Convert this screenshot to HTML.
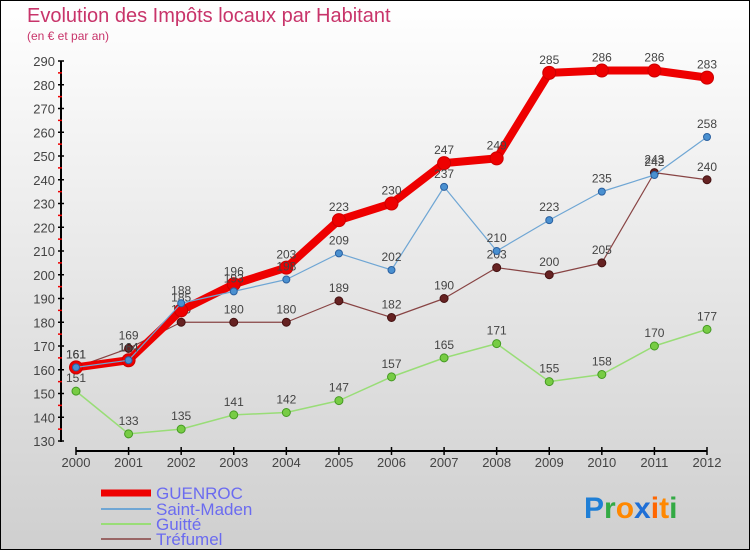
<!DOCTYPE html>
<html><head><meta charset="utf-8"><style>
body{margin:0}
#c{width:748px;height:548px;border:1px solid #000;background:linear-gradient(#ffffff,#cfcfcf);position:relative;font-family:"Liberation Sans",sans-serif;overflow:hidden}
</style></head><body>
<div id="c">
<svg id="s" width="748" height="548" xmlns="http://www.w3.org/2000/svg">
<text x="26" y="21" font-size="20" fill="#c8346a">Evolution des Impôts locaux par Habitant</text>
<text x="26" y="39" font-size="12" fill="#c8346a">(en € et par an)</text>
<g id="axes"></g><g id="series"></g>
<g>
<line x1="100" y1="492" x2="150" y2="492" stroke="#ee0000" stroke-width="7"/>
<text x="155" y="498" font-size="17" fill="#6b6bf0">GUENROC</text>
<line x1="100" y1="508" x2="150" y2="508" stroke="#6fa6d4" stroke-width="2"/>
<text x="155" y="514" font-size="17" fill="#6b6bf0">Saint-Maden</text>
<line x1="100" y1="523" x2="150" y2="523" stroke="#99dd77" stroke-width="2"/>
<text x="155" y="529" font-size="17" fill="#6b6bf0">Guitté</text>
<line x1="100" y1="538" x2="150" y2="538" stroke="#996666" stroke-width="2"/>
<text x="155" y="544" font-size="17" fill="#6b6bf0">Tréfumel</text>
</g>
<g font-size="30" font-weight="bold">
<text x="583" y="517"><tspan fill="#1f7fd6">P</tspan><tspan fill="#33aa44">r</tspan><tspan fill="#ff8800">o</tspan><tspan fill="#1f6fd6">x</tspan><tspan fill="#ff6600">i</tspan><tspan fill="#ff8800">t</tspan><tspan fill="#33aa44">i</tspan></text>
</g>
</svg>
</div>
<script>
const years=[2000,2001,2002,2003,2004,2005,2006,2007,2008,2009,2010,2011,2012];
const guenroc=[161,164,185,196,203,223,230,247,249,285,286,286,283];
const saintMaden=[161,164,188,193,198,209,202,237,210,223,235,242,258];
const guitte=[151,133,135,141,142,147,157,165,171,155,158,170,177];
const trefumel=[161,169,180,180,180,189,182,190,203,200,205,243,240];
const yTicks=[130,140,150,160,170,180,190,200,210,220,230,240,250,260,270,280,290];
const NS="http://www.w3.org/2000/svg";
const X=i=>75+i*(706-75)/(years.length-1);
const Y=v=>440-(v-130)*(380/160);
function mk(t,a,p){const e=document.createElementNS(NS,t);for(const k in a)e.setAttribute(k,a[k]);p.appendChild(e);return e;}
const ax=document.getElementById('axes');
const ya=mk('line',{x1:60,y1:Y(290),x2:60,y2:Y(130)+1,stroke:'#000','stroke-width':2},ax);


yTicks.forEach((v,k)=>{
 mk('line',{x1:57,y1:Y(v),x2:63,y2:Y(v),stroke:'#000','stroke-width':1.5},ax);
 if(k<yTicks.length-1) mk('line',{x1:57,y1:Y(v+5),x2:61,y2:Y(v+5),stroke:'#e00','stroke-width':1.5},ax);
 const t=mk('text',{x:54,y:Y(v)+5,'text-anchor':'end','font-size':13,fill:'#444'},ax);t.textContent=v;
 
 
});
const xa=mk('line',{x1:X(0),y1:450,x2:X(12),y2:450,stroke:'#000','stroke-width':2},ax);


years.forEach((y,i)=>{
 mk('line',{x1:X(i),y1:446,x2:X(i),y2:454,stroke:'#000','stroke-width':1.5},ax);
 const t=mk('text',{x:X(i),y:466,'text-anchor':'middle','font-size':13,fill:'#444'},ax);t.textContent=y;
 
 
});
const sg=document.getElementById('series');
function series(name,data,color,w,r,fill,stroke){
 const g=mk('g',{},sg);
 
 
 const l=mk('polyline',{points:data.map((v,i)=>X(i)+','+Y(v)).join(' '),fill:'none',stroke:color,'stroke-width':w,'stroke-linejoin':'round'},g);
 
 
 data.forEach((v,i)=>{
  const c=mk('circle',{cx:X(i),cy:Y(v),r:r,fill:fill,stroke:stroke,'stroke-width':1},g);
  
  
  const t=mk('text',{x:X(i),y:Y(v)-9,'text-anchor':'middle','font-size':12,fill:'#444'},g);t.textContent=v;
  
  
 });
}
series('guitte',guitte,'#99dd77',1.5,4,'#77cc44','#449922');
series('trefumel',trefumel,'#884444',1.2,4,'#662222','#441111');
series('guenroc',guenroc,'#ee0000',8,6.5,'#ee0000','#cc0000');
series('saint-maden',saintMaden,'#6fa6d4',1.2,3.5,'#4a90d0','#2a60a0');
</script>
</body></html>
